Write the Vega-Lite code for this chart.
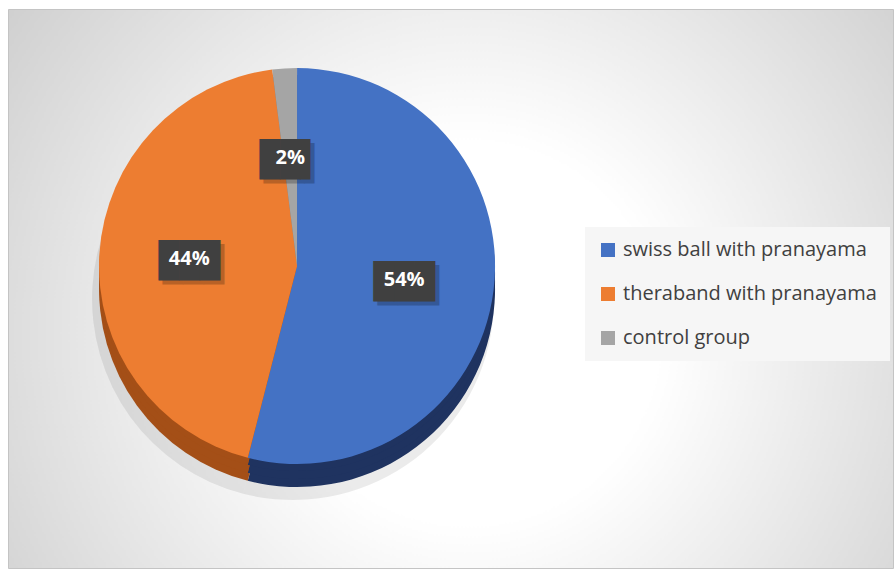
{
  "$schema": "https://vega.github.io/schema/vega-lite/v6.json",
  "width": 885,
  "height": 559,
  "autosize": {"type": "none"},
  "padding": {"left": 8, "top": 9, "right": 2, "bottom": 6},
  "background": "white",
  "view": {
    "stroke": "#c4c4c4",
    "strokeWidth": 1,
    "fill": {
      "gradient": "radial",
      "x1": 0.52, "y1": 0.55, "r1": 0,
      "x2": 0.52, "y2": 0.55, "r2": 0.72,
      "stops": [
        {"offset": 0, "color": "#ffffff"},
        {"offset": 0.3, "color": "#ffffff"},
        {"offset": 1, "color": "#c6c6c6"}
      ]
    }
  },
  "data": {
    "values": [
      {"group": "swiss ball with pranayama", "pct": 54, "label": "54%"},
      {"group": "theraband with pranayama", "pct": 44, "label": "44%"},
      {"group": "control group", "pct": 2, "label": "2%"}
    ]
  },
  "transform": [
    {"calculate": "datum.pct >= 10 ? '███' : '██▌'", "as": "box"}
  ],
  "encoding": {
    "x": {"datum": 0.3266, "type": "quantitative", "scale": {"domain": [0, 1], "nice": false, "zero": false}, "axis": null},
    "y": {"datum": 0.5402, "type": "quantitative", "scale": {"domain": [0, 1], "nice": false, "zero": false}, "axis": null},
    "theta": {"field": "pct", "type": "quantitative", "stack": true},
    "order": {"field": "pct", "sort": "descending"}
  },
  "layer": [
    {
      "mark": {"type": "arc", "radius": 201, "yOffset": 33, "xOffset": -4, "fill": "#000000", "opacity": 0.08},
      "encoding": {}
    },
    {
      "mark": {"type": "arc", "radius": 198, "yOffset": 23},
      "encoding": {
        "fill": {"field": "label", "type": "nominal", "legend": null,
          "scale": {"domain": ["54%", "44%", "2%"], "range": ["#1f3360", "#a44f17", "#7b7b7b"]}}
      }
    },
    {
      "mark": {"type": "arc", "radius": 198, "yOffset": 15},
      "encoding": {
        "fill": {"field": "label", "type": "nominal", "legend": null}
      }
    },
    {
      "mark": {"type": "arc", "radius": 198, "yOffset": 7},
      "encoding": {
        "fill": {"field": "label", "type": "nominal", "legend": null}
      }
    },
    {
      "mark": {"type": "arc", "radius": 198},
      "encoding": {
        "color": {"field": "group", "type": "nominal",
          "scale": {"domain": ["swiss ball with pranayama", "theraband with pranayama", "control group"], "range": ["#4472c4", "#ed7d31", "#a5a5a5"]},
          "legend": {
            "title": null,
            "orient": "none",
            "legendX": 577,
            "legendY": 218,
            "fillColor": "#f6f6f6",
            "padding": 13,
            "symbolType": "square",
            "symbolSize": 196,
            "symbolStrokeWidth": 0,
            "symbolOpacity": 1,
            "labelFont": "Open Sans",
            "labelFontSize": 20,
            "labelColor": "#404040",
            "labelOffset": 5,
            "rowPadding": 24,
            "labelLimit": 400
          }
        }
      }
    },
    {
      "mark": {"type": "text", "radius": 108, "font": "DejaVu Sans Mono", "fontSize": 34, "fill": "#000000", "opacity": 0.22, "dx": 4, "dy": 7, "baseline": "middle", "align": "center"},
      "encoding": {"text": {"field": "box"}}
    },
    {
      "mark": {"type": "text", "radius": 108, "font": "DejaVu Sans Mono", "fontSize": 34, "fill": "#404040", "dy": 3, "baseline": "middle", "align": "center"},
      "encoding": {"text": {"field": "box"}}
    },
    {
      "mark": {"type": "text", "radius": 108, "font": "Open Sans", "fontWeight": "bold", "fontSize": 20, "fill": "#ffffff", "baseline": "middle", "align": "center"},
      "encoding": {"text": {"field": "label"}}
    }
  ]
}
